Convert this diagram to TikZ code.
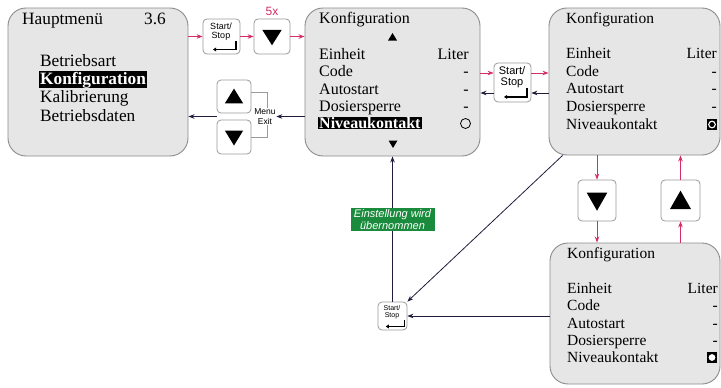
\documentclass[tikz,border=0pt]{standalone}
\usepackage{fontspec}
\setmainfont{Liberation Serif}
\setsansfont{Liberation Sans}
\usetikzlibrary{calc,arrows.meta}
\definecolor{panelfill}{HTML}{E6E6E6}
\definecolor{panelline}{HTML}{8C8C8C}
\definecolor{btnline}{HTML}{9A9A9A}
\definecolor{redarrow}{HTML}{D42E64}
\definecolor{darkarrow}{HTML}{1E1E3C}
\definecolor{okgreen}{HTML}{1A8B3C}
\newcommand\fsA{\fontsize{17.3}{20}\selectfont}
\newcommand\fsB{\fontsize{16}{19}\selectfont}
\newcommand\fsC{\fontsize{15.5}{18}\selectfont}
\tikzset{
 panel/.style={draw=panelline, fill=panelfill, rounded corners=18pt, line width=0.9pt, inner sep=0pt},
 btn/.style={draw=btnline, fill=white, rounded corners=4pt, line width=0.8pt, inner sep=0pt},
 redarr/.style={draw=redarrow, line width=0.9pt, -{Stealth[length=6pt,width=4.5pt]}},
 darkarr/.style={draw=darkarrow, line width=0.8pt, -{Stealth[length=6pt,width=4.5pt]}},
 ptxt/.style={anchor=base west, inner sep=0pt},
 rtxt/.style={anchor=base east, inner sep=0pt},
 hl/.style={anchor=base west, fill=black, text=white, inner xsep=1.5pt, inner ysep=0.5pt},
}
% Start/Stop key: name, cx, cy, w, h, font size
\newcommand\ssbtn[6]{%
 \node[btn, minimum width=#4pt, minimum height=#5pt] (#1) at (#2,#3) {};
 \node[font=\sffamily\fontsize{#6}{#6}\selectfont, align=center, inner sep=0pt] (#1txt) at ($(#1.center)+(-0.5,{-0.13*#5})$) {Start/\\Stop};
 \draw[line width=0.19*#6pt, -{Triangle[length=3.2pt,width=3.8pt]}] ($(#1.south east)+({-0.11*#4},{-0.37*#5})$) -- ++(0,{0.23*#5}) -- ($(#1.south west)+({0.28*#4},{-0.14*#5})$);
}
% Down key: name, cx, cy, w, h
\newcommand\dnbtn[5]{%
 \node[btn, minimum width=#4pt, minimum height=#5pt] (#1) at (#2,#3) {};
 \fill ($(#1.center)+({-0.27*#4},{-0.19*#5})$) -- ($(#1.center)+({0.27*#4},{-0.19*#5})$) -- ($(#1.center)+(0,{0.25*#5})$) -- cycle;
}
% Up key
\newcommand\upbtn[5]{%
 \node[btn, minimum width=#4pt, minimum height=#5pt] (#1) at (#2,#3) {};
 \fill ($(#1.center)+({-0.27*#4},{0.21*#5})$) -- ($(#1.center)+({0.27*#4},{0.21*#5})$) -- ($(#1.center)+(0,{-0.24*#5})$) -- cycle;
}
\begin{document}
\begin{tikzpicture}[x=1pt,y=-1pt]
\useasboundingbox[fill=white] (0,0) rectangle (721,388);

% ---- panels
\node[panel, minimum width=180pt, minimum height=148pt] (p1) at (98,82) {};
\node[panel, minimum width=175pt, minimum height=148pt] (p2) at (392.5,82) {};
\node[panel, minimum width=171pt, minimum height=147pt] (p3) at (634.5,81.5) {};
\node[panel, minimum width=170pt, minimum height=141pt] (p4) at (635,313.5) {};

% ---- panel 1 text
\begin{scope}[every node/.append style={font=\fsA}]
\node[ptxt] (p1title) at (22,24) {Hauptmenü};
\node[rtxt] (p1ver) at (166,24) {3.6};
\node[ptxt] (p1a) at (40,66) {Betriebsart};
\node[hl] (p1b) at (38.5,84) {\textbf{Konfiguration}};
\node[ptxt] (p1c) at (40,102.5) {Kalibrierung};
\node[ptxt] (p1d) at (40,121) {Betriebsdaten};
\end{scope}

% ---- panel 2 text
\begin{scope}[every node/.append style={font=\fsB}]
\node[ptxt] (p2title) at (319,23.5) {Konfiguration};
\node[ptxt] (p2a) at (319,59) {Einheit};
\node[ptxt] (p2b) at (319,76.5) {Code};
\node[ptxt] (p2c) at (319,94) {Autostart};
\node[ptxt] (p2d) at (319,111) {Dosiersperre};
\node[hl] (p2e) at (317.5,128.5) {\textbf{Niveaukontakt}};
\node[rtxt] (p2va) at (469,59) {Liter};
\node[rtxt] (p2vb) at (469,76.5) {-};
\node[rtxt] (p2vc) at (469,94) {-};
\node[rtxt] (p2vd) at (469,111) {-};
\end{scope}
\node[circle, draw, line width=0.8pt, minimum size=10pt, inner sep=0pt] (p2o) at (465.5,123.5) {};
\fill (388,40.5) -- (397,40.5) -- (392.5,33) -- cycle;
\fill (388.5,140.5) -- (397.5,140.5) -- (393,148) -- cycle;

% ---- panel 3 text
\begin{scope}[every node/.append style={font=\fsC}]
\node[ptxt] (p3title) at (566,23.5) {Konfiguration};
\node[ptxt] (p3a) at (566,58.5) {Einheit};
\node[ptxt] (p3b) at (566,76) {Code};
\node[ptxt] (p3c) at (566,93.5) {Autostart};
\node[ptxt] (p3d) at (566,111) {Dosiersperre};
\node[ptxt] (p3e) at (566,129) {Niveaukontakt};
\node[rtxt] (p3va) at (717,58.5) {Liter};
\node[rtxt] (p3vb) at (717,76) {-};
\node[rtxt] (p3vc) at (717,93.5) {-};
\node[rtxt] (p3vd) at (717,111) {-};
\end{scope}
\node[fill=black, minimum size=10.5pt, inner sep=0pt] (p3ic) at (712,124.5) {};
\draw[white, line width=1.1pt, fill=black] (p3ic.center) circle (3.3);

% ---- panel 4 text
\begin{scope}[every node/.append style={font=\fsC}]
\node[ptxt] (p4title) at (567,258.5) {Konfiguration};
\node[ptxt] (p4a) at (567,293) {Einheit};
\node[ptxt] (p4b) at (567,310.5) {Code};
\node[ptxt] (p4c) at (567,328) {Autostart};
\node[ptxt] (p4d) at (567,345) {Dosiersperre};
\node[ptxt] (p4e) at (567,362.5) {Niveaukontakt};
\node[rtxt] (p4va) at (718,293) {Liter};
\node[rtxt] (p4vb) at (718,310.5) {-};
\node[rtxt] (p4vc) at (718,328) {-};
\node[rtxt] (p4vd) at (718,345) {-};
\end{scope}
\node[fill=black, minimum size=10.5pt, inner sep=0pt] (p4ic) at (712,357.5) {};
\fill[white] (p4ic.center) circle (3.4);

% ---- keys
\ssbtn{b1}{221.5}{36.5}{37}{35}{9}
\dnbtn{bd1}{272}{36.5}{36}{35}
\node[text=redarrow, font=\sffamily\fontsize{12}{12}\selectfont, inner sep=0pt] (five) at (272,11.5) {5x};
\upbtn{bu2}{234}{96.5}{34}{33}
\dnbtn{bd2}{234}{137}{34}{34}
\ssbtn{b2}{512.5}{82.5}{37}{39}{11}
\dnbtn{bd3}{597}{200.5}{38}{41}
\upbtn{bu3}{680.5}{200.5}{39}{41}
\ssbtn{b3}{392.5}{316}{29}{28}{7}

% ---- Menu/Exit bracket
\draw[btnline, line width=0.7pt] ([yshift=4pt]bu2.east) -- ++(16,0) |- (bd2.east);
\node[font=\sffamily\fontsize{8.5}{9.5}\selectfont, align=center, fill=white, inner sep=0.5pt] (menu) at (265,116.5) {Menu\\Exit};

% ---- connectors top row
\draw[redarr] (p1.east |- b1.west) -- (b1.west);
\draw[redarr] (b1.east) -- (bd1.west);
\draw[redarr] (bd1.east) -- (p2.west |- bd1.east);
\draw[darkarr] (p2.west |- menu.east) -- (menu.east);
\coordinate (gapL) at ($(bu2.south west)!0.5!(bd2.north west)$);
\draw[darkarr] (gapL) -- (p1.east |- gapL);

% ---- connectors around b2
\coordinate (b2wr) at ([yshift=9.5pt]b2.west);
\coordinate (b2er) at ([yshift=9.5pt]b2.east);
\coordinate (b2wd) at ([yshift=-10.5pt]b2.west);
\coordinate (b2ed) at ([yshift=-10.5pt]b2.east);
\draw[redarr] (p2.east |- b2wr) -- (b2wr);
\draw[redarr] (b2er) -- (p3.west |- b2er);
\draw[darkarr] (p3.west |- b2ed) -- (b2ed);
\draw[darkarr] (b2wd) -- (p2.east |- b2wd);

% ---- vertical red arrows
\draw[redarr] (p3.south -| bd3.north) -- (bd3.north);
\draw[redarr] (bd3.south) -- (p4.north -| bd3.south);
\draw[redarr] (p4.north -| bu3.south) -- (bu3.south);
\draw[redarr] (bu3.north) -- (p3.south -| bu3.north);

% ---- bottom connectors
\draw[darkarr] (p4.west |- b3.east) -- (b3.east);
\draw[darkarr] ([xshift=14pt]p3.south west) -- (b3.north east);
\draw[darkarr] (b3.north) -- (p2.south);
\node[fill=okgreen, text=white, font=\sffamily\itshape\fontsize{11}{12}\selectfont, align=center, inner xsep=2pt, inner ysep=1.2pt, minimum width=84pt] (note) at (392.5,219.5) {Einstellung wird\\übernommen};
\end{tikzpicture}
\end{document}
